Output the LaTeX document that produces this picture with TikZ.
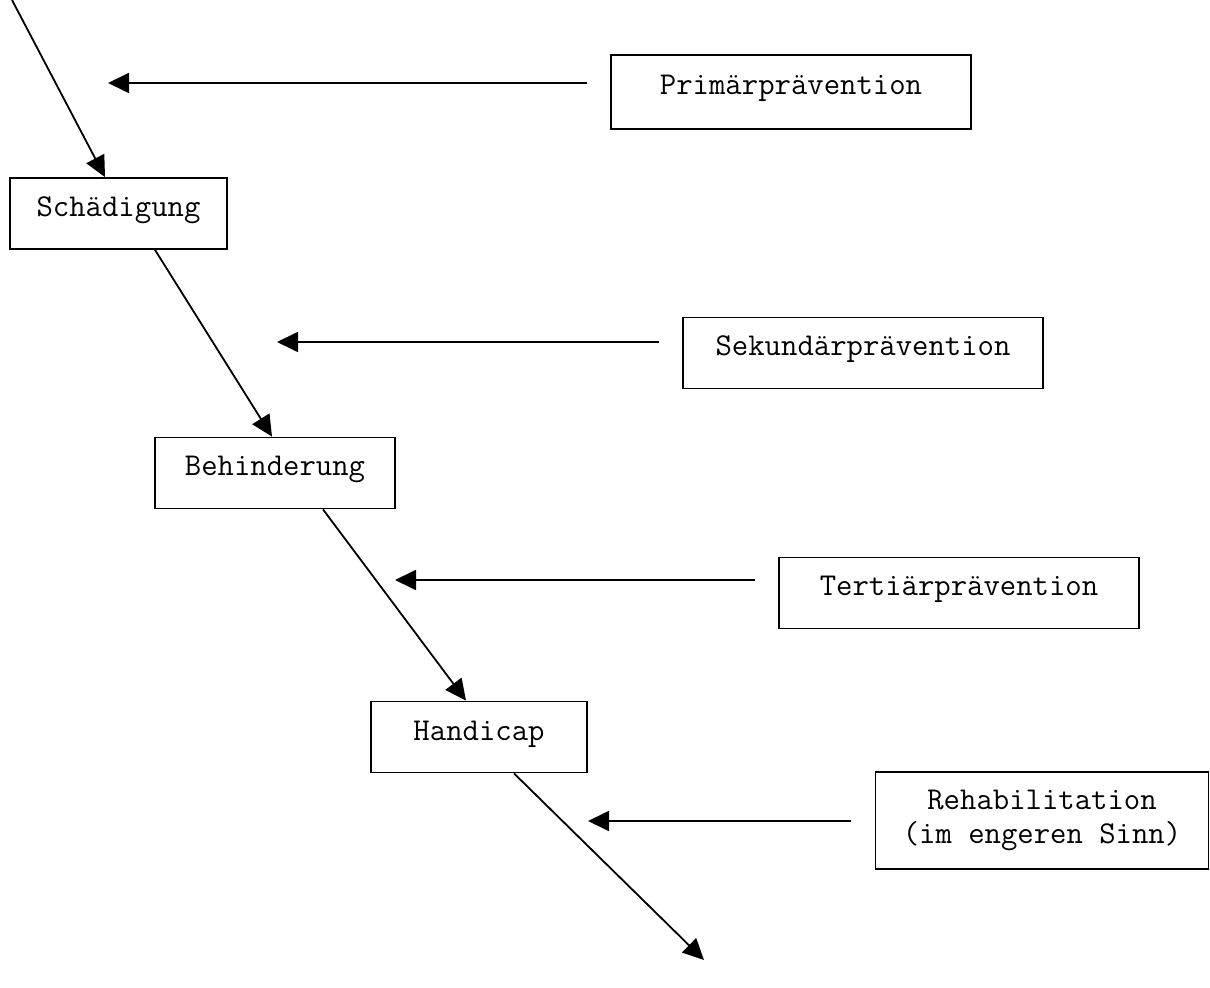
\documentclass[tikz,border=0pt]{standalone}
\usetikzlibrary{arrows.meta}

\begin{document}
\begin{tikzpicture}
[x=0.5pt, y=-0.5pt,
font=\ttfamily\fontsize{15.9}{17}\selectfont,
stagebox/.style={rectangle, draw, line width=0.9pt, inner sep=0pt, text height=6.5pt, text depth=3.5pt, minimum height=35.5pt},
prevbox/.style={stagebox, minimum width=180pt},
flow/.style={line width=0.9pt, -{Triangle[length=10.5pt, width=10pt]}},
]
\useasboundingbox (0,0) rectangle (1210,988);

\node[prevbox, minimum height=37pt]	(prim) at (791,92) {Primärprävention};
\node[stagebox, minimum width=108.5pt]	(schad) at (118.5,213.5) {Schädigung};
\node[prevbox]	(sek) at (863,353) {Sekundärprävention};
\node[stagebox, minimum width=120pt]	(behind) at (275,473) {Behinderung};
\node[prevbox]	(tert) at (959,593) {Tertiärprävention};
\node[stagebox, minimum width=108pt]	(handi) at (479,737) {Handicap};
\node[rectangle, draw, line width=0.9pt, inner sep=0pt, minimum width=166.5pt, minimum height=48.5pt, align=center]	(reha) at (1042,820.5) {Rehabilitation\\(im engeren Sinn)};

\coordinate (start) at (12,0);
\coordinate (end) at (704,960);
\coordinate (primtip) at (108,83);
\coordinate (sektip) at (277,342);
\coordinate (terttip) at (395,580);
\coordinate (rehatip) at (588,821);

% chain of stages
\draw[flow] (start) -- ([xshift=-6.75pt]schad.north);
\draw[flow] ([xshift=18.25pt]schad.south) -- ([xshift=-1.5pt]behind.north);
\draw[flow] ([xshift=24pt]behind.south) -- ([xshift=-6.5pt]handi.north);
\draw[flow] ([xshift=17.5pt]handi.south) -- (end);

% prevention levels
\draw[flow] ([xshift=-11.5pt]prim.west |- primtip) -- (primtip);
\draw[flow] ([xshift=-11.5pt]sek.west |- sektip) -- (sektip);
\draw[flow] ([xshift=-11.5pt]tert.west |- terttip) -- (terttip);
\draw[flow] ([xshift=-12pt]reha.west |- rehatip) -- (rehatip);
\end{tikzpicture}
\end{document}
